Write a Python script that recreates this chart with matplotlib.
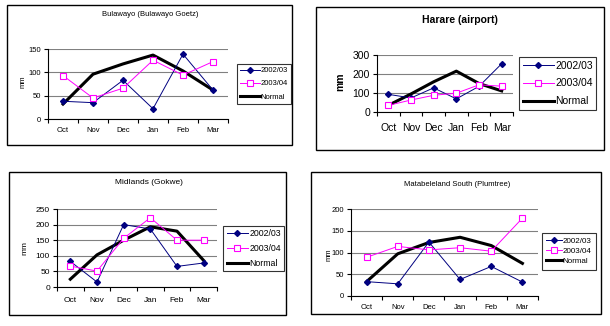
import numpy as np
import matplotlib
matplotlib.use("Agg")
import matplotlib.pyplot as plt
from matplotlib.patches import Rectangle

plt.rcParams['font.family'] = ['Liberation Sans', 'DejaVu Sans']

months = ['Oct', 'Nov', 'Dec', 'Jan', 'Feb', 'Mar']
series_names = ['2002/03', '2003/04', 'Normal']

# rainfall (mm)
bulawayo_0203 = [38, 35, 83, 22, 139, 62]
bulawayo_0304 = [93, 45, 66, 126, 94, 123]
bulawayo_normal = [32, 96, 118, 137, 103, 62]

harare_0203 = [93, 74, 127, 69, 135, 254]
harare_0304 = [35, 63, 88, 99, 143, 136]
harare_normal = [35, 95, 159, 215, 150, 111]

midlands_0203 = [82, 16, 200, 186, 66, 77]
midlands_0304 = [67, 51, 156, 222, 150, 150]
midlands_normal = [25, 103, 150, 193, 179, 85]

matsouth_0203 = [33, 28, 124, 38, 68, 32]
matsouth_0304 = [89, 114, 106, 111, 103, 179]
matsouth_normal = [33, 97, 123, 135, 116, 75]

W, H = 610, 326
fig = plt.figure(figsize=(W / 100, H / 100), dpi=100)


def fx(px):
    return px / W


def fy(py):
    return 1 - py / H


panels = [
    dict(title='Bulawayo (Bulawayo Goetz)', data=(bulawayo_0203, bulawayo_0304, bulawayo_normal),
         ymax=150, step=50, plot=(48, 49, 228, 119), frame=(7, 5, 292, 145),
         leg=(237, 64), tpos=(150, 15), ypos=(23, 82), fs=5.5, lfs=5.5,
         hl=2.6, ls=0.75, bp=0.4, xpad=6, big=False),
    dict(title='Harare (airport)', data=(harare_0203, harare_0304, harare_normal),
         ymax=300, step=100, plot=(377, 55, 513, 112), frame=(316, 7, 604, 150),
         leg=(519, 57), tpos=(460, 20), ypos=(340, 82), fs=7.5, lfs=7.5,
         hl=3.0, ls=0.75, bp=0.35, xpad=8, big=True),
    dict(title='Midlands (Gokwe)', data=(midlands_0203, midlands_0304, midlands_normal),
         ymax=250, step=50, plot=(57, 209, 217, 287), frame=(9, 172, 286, 315),
         leg=(223, 226), tpos=(149, 183), ypos=(25, 248), fs=6.0, lfs=6.3,
         hl=2.5, ls=0.65, bp=0.4, xpad=7, big=False),
    dict(title='Matabeleland South (Plumtree)', data=(matsouth_0203, matsouth_0304, matsouth_normal),
         ymax=200, step=50, plot=(351, 209, 538, 296), frame=(311, 172, 601, 314),
         leg=(542, 233), tpos=(457, 184), ypos=(329, 255), fs=5.5, lfs=5.8,
         hl=1.9, ls=0.3, bp=0.55, xpad=6, big=False),
]

x = np.arange(len(months))

for p in panels:
    fl, ft, fr, fb = p['frame']
    fig.patches.append(Rectangle((fx(fl), fy(fb)), fx(fr - fl), (fb - ft) / H,
                                 transform=fig.transFigure, fill=False,
                                 edgecolor='black', linewidth=1.0))
    l, t, r, b = p['plot']
    ax = fig.add_axes([fx(l), fy(b), fx(r - l), (b - t) / H])
    fs = p['fs']

    d1, d2, dn = p['data']
    ax.plot(x, d1, color='#000080', marker='D', markersize=3, linewidth=0.7,
            label=series_names[0], zorder=3)
    ax.plot(x, d2, color='#ff00ff', marker='s', markersize=4, markerfacecolor='white',
            markeredgewidth=0.8, linewidth=0.7, label=series_names[1], zorder=3)
    ax.plot(x, dn, color='black', linewidth=2.2, label=series_names[2], zorder=2)

    ax.set_xlim(-0.5, len(months) - 0.5)
    ax.set_ylim(0, p['ymax'])
    yt = np.arange(0, p['ymax'] + 1, p['step'])
    ax.set_yticks(yt)
    ax.set_yticklabels([str(v) for v in yt], fontsize=fs)
    ax.set_xticks(x)
    ax.set_xticklabels(months, fontsize=fs)
    ax.set_xticks(np.arange(-0.5, len(months)), minor=True)
    ax.tick_params(axis='x', which='major', length=0, pad=p['xpad'])
    ax.tick_params(axis='x', which='minor', length=3, direction='out', width=0.8)
    ax.tick_params(axis='y', length=3, direction='out', width=0.8, pad=2)
    ax.yaxis.grid(True, color='#808080', linewidth=0.8)
    ax.set_axisbelow(True)
    for s in ['top', 'right']:
        ax.spines[s].set_visible(False)
    for s in ['left', 'bottom']:
        ax.spines[s].set_linewidth(0.8)

    fig.text(fx(p['tpos'][0]), fy(p['tpos'][1]), p['title'], ha='center', va='center',
             fontsize=fs, fontweight='bold' if p['big'] else 'normal')
    fig.text(fx(p['ypos'][0]), fy(p['ypos'][1]), 'mm', ha='center', va='center',
             rotation=90, fontsize=fs, fontweight='bold' if p['big'] else 'normal')

    leg = ax.legend(loc='upper left', bbox_to_anchor=(fx(p['leg'][0]), fy(p['leg'][1])),
                    bbox_transform=fig.transFigure, fontsize=p['lfs'], frameon=True,
                    fancybox=False, borderpad=p['bp'], handlelength=p['hl'],
                    handletextpad=0.1, labelspacing=p['ls'], borderaxespad=0)
    leg.get_frame().set_edgecolor('black')
    leg.get_frame().set_linewidth(0.8)

fig.savefig('out.png', dpi=100)
